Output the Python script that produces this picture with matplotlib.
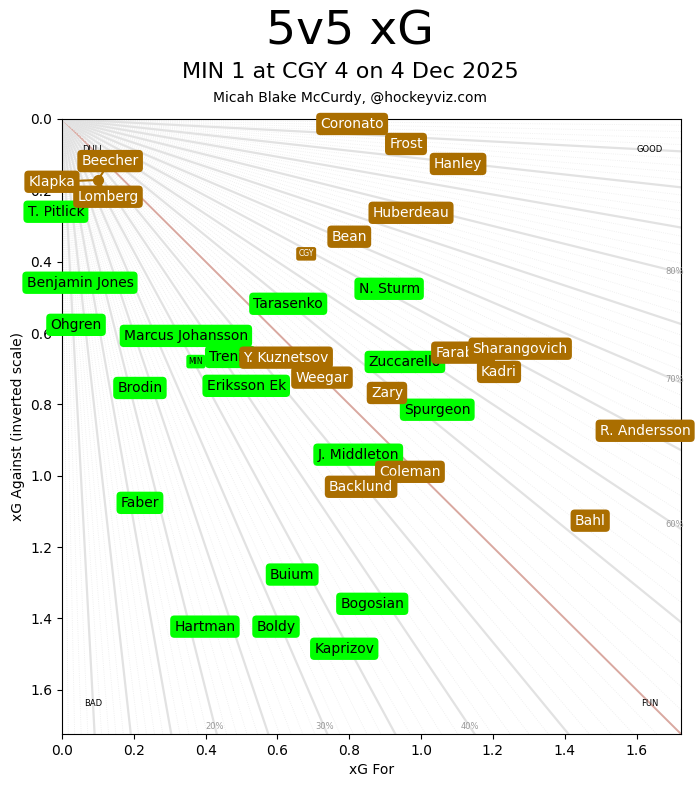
import numpy as np
import matplotlib.pyplot as plt

# 팀 정보
home_team = 'CGY'
away_team = 'MIN'
home_color = '#aa6e00'
away_color = '#00ff00'

# 팀 전체 xG (for, against)
team_xgf = {'CGY': 0.68, 'MIN': 0.373}
team_xga = {'CGY': 0.378, 'MIN': 0.68}

# CGY 선수 (라벨 위치)
cgy_names = ['Coronato', 'Frost', 'Hanley', 'Beecher', 'Klapka', 'Lomberg', 'Huberdeau',
             'Bean', 'Y. Kuznetsov', 'Weegar', 'Zary', 'Farabee', 'Sharangovich', 'Kadri',
             'R. Andersson', 'Coleman', 'Backlund', 'Bahl']
cgy_xgf = [0.808, 0.958, 1.103, 0.134, -0.028, 0.128, 0.972,
           0.80, 0.624, 0.724, 0.905, 1.117, 1.276, 1.217,
           1.624, 0.969, 0.833, 1.471]
cgy_xga = [0.014, 0.070, 0.126, 0.118, 0.176, 0.218, 0.263,
           0.33, 0.669, 0.725, 0.768, 0.655, 0.644, 0.709,
           0.874, 0.989, 1.031, 1.126]

# MIN 선수 (라벨 위치)
min_names = ['T. Pitlick', 'Benjamin Jones', 'Ohgren', 'Marcus Johansson', 'Trenin', 'Brodin',
             'Eriksson Ek', 'Tarasenko', 'N. Sturm', 'Zuccarello', 'Spurgeon', 'J. Middleton',
             'Faber', 'Buium', 'Bogosian', 'Hartman', 'Boldy', 'Kaprizov']
min_xgf = [-0.017, 0.05, 0.039, 0.345, 0.468, 0.217,
           0.513, 0.63, 0.911, 0.955, 1.045, 0.825,
           0.217, 0.641, 0.864, 0.398, 0.596, 0.786]
min_xga = [0.26, 0.459, 0.577, 0.608, 0.667, 0.754,
           0.748, 0.518, 0.476, 0.681, 0.815, 0.941,
           1.076, 1.277, 1.359, 1.423, 1.423, 1.485]

# 겹쳐진 점 하나 (Beecher, Klapka, Lomberg)
shared_point = (0.1, 0.171)

lim = 1.724

fig = plt.figure(figsize=(7, 7.88), dpi=100)
ax = fig.add_axes([0.0886, 0.0685, 0.8843, 0.7805])

# 배경 방사선
for pct in range(1, 100):
    p = pct / 100
    k = p / (1 - p)
    L = 10.0
    if pct == 50:
        ax.plot([0, L], [0, L], color='#d9a8a0', lw=1.4, zorder=1)
    elif pct % 5 == 0:
        ax.plot([0, L * k], [0, L], color='#e2e2e2', lw=1.6, zorder=1)
    else:
        ax.plot([0, L * k], [0, L], color='#ececec', lw=0.6, ls=':', zorder=1)

for pct in [20, 30, 40]:
    k = pct / (100 - pct)
    y = 0.988 * lim
    ax.text(k * y, y, f'{pct}%', fontsize=6, color='#999999', ha='center', va='center')
for pct in [60, 70, 80]:
    k = (100 - pct) / pct
    x = 0.989 * lim
    ax.text(x, k * x, f'{pct}%', fontsize=6, color='#999999', ha='center', va='center')

# 모서리 라벨
ax.text(0.05 * lim, 0.05 * lim, 'DULL', fontsize=6, ha='center', va='center')
ax.text(0.95 * lim, 0.05 * lim, 'GOOD', fontsize=6, ha='center', va='center')
ax.text(0.05 * lim, 0.95 * lim, 'BAD', fontsize=6, ha='center', va='center')
ax.text(0.95 * lim, 0.95 * lim, 'FUN', fontsize=6, ha='center', va='center')

# 팀 라벨
ax.text(team_xgf['CGY'], team_xga['CGY'], 'CGY', fontsize=5.5, color='white',
        ha='center', va='center', zorder=3,
        bbox=dict(boxstyle='round,pad=0.3', fc=home_color, ec='none'))
ax.text(team_xgf['MIN'], team_xga['MIN'], 'MIN', fontsize=5.5, color='black',
        ha='center', va='center', zorder=3,
        bbox=dict(boxstyle='round,pad=0.3', fc=away_color, ec='none'))

# 겹친 점과 연결선
ax.plot(*shared_point, 'o', color=home_color, ms=7, zorder=4)
for name in ['Beecher', 'Klapka', 'Lomberg']:
    i = cgy_names.index(name)
    ax.plot([cgy_xgf[i], shared_point[0]], [cgy_xga[i], shared_point[1]],
            color=home_color, lw=1.5, zorder=4)

# 선수 라벨
for n, x, y in zip(min_names, min_xgf, min_xga):
    ax.text(x, y, n, fontsize=10, color='black', ha='center', va='center', zorder=5,
            bbox=dict(boxstyle='round,pad=0.3', fc=away_color, ec='none'))
for n, x, y in zip(cgy_names, cgy_xgf, cgy_xga):
    ax.text(x, y, n, fontsize=10, color='white', ha='center', va='center', zorder=6,
            bbox=dict(boxstyle='round,pad=0.3', fc=home_color, ec='none'))

ax.set_xlim(0, lim)
ax.set_ylim(lim, 0)
ax.set_xlabel('xG For')
ax.set_ylabel('xG Against (inverted scale)')

fig.text(0.5, 0.959, '5v5 xG', fontsize=34, ha='center', va='center')
fig.text(0.5, 0.909, 'MIN 1 at CGY 4 on 4 Dec 2025', fontsize=16, ha='center', va='center')
fig.text(0.5, 0.876, 'Micah Blake McCurdy, @hockeyviz.com', fontsize=10, ha='center', va='center')

fig.savefig('out.png')
